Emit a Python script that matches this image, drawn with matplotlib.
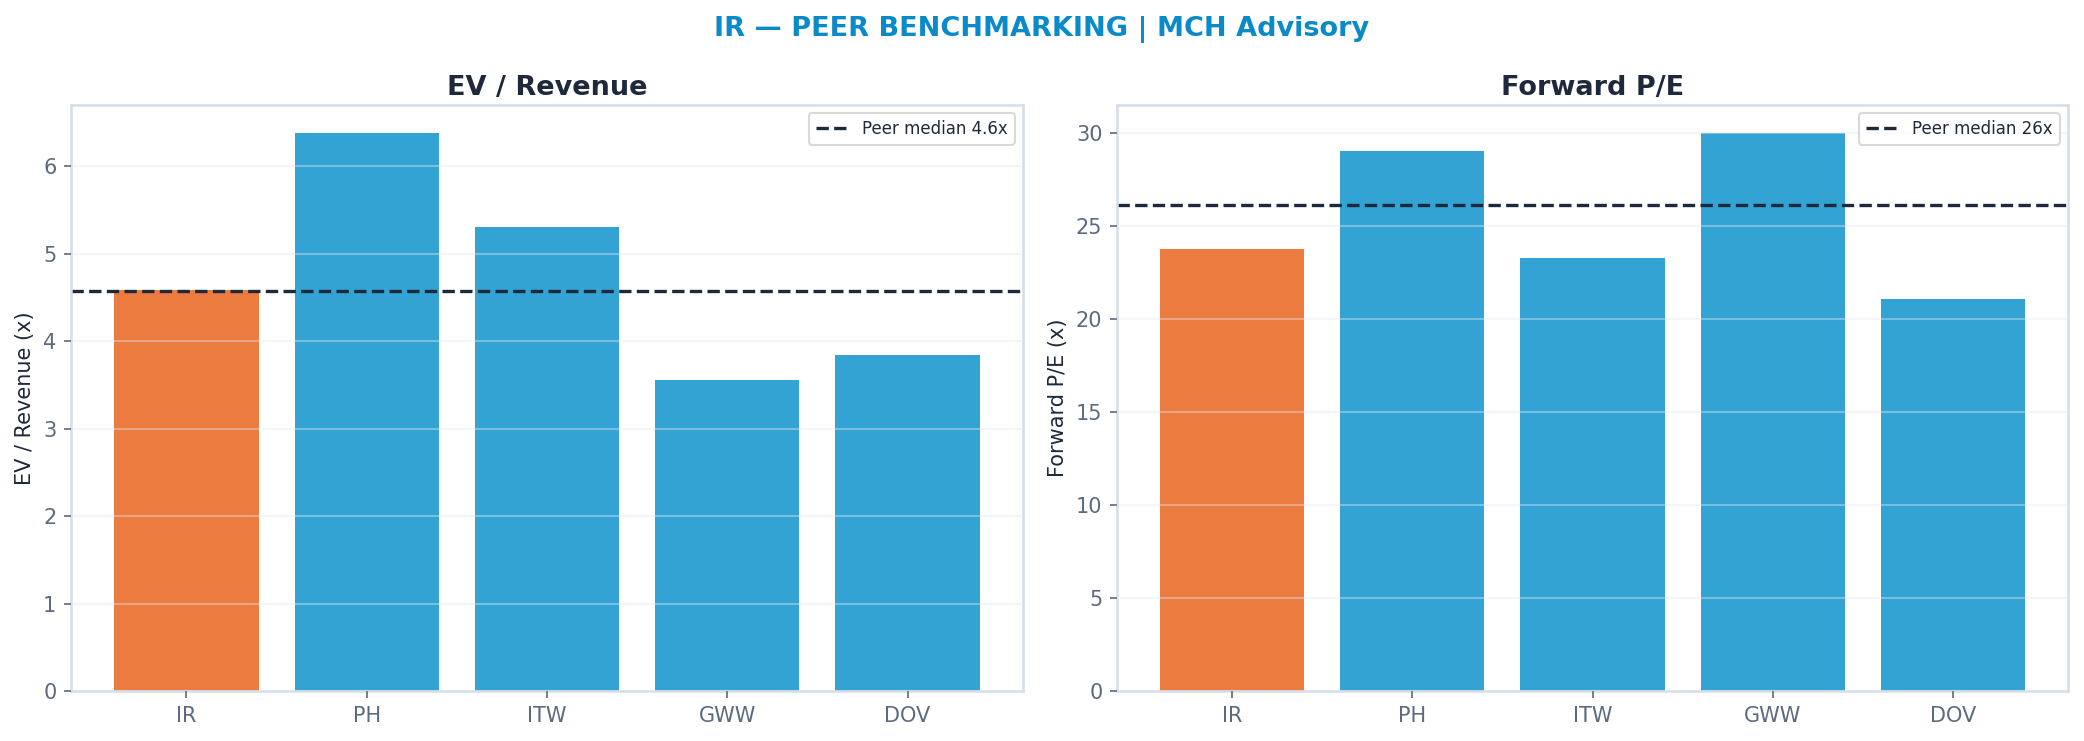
import numpy as np
import matplotlib
matplotlib.use("Agg")
import matplotlib.pyplot as plt

# Peer set
tickers = ["IR", "PH", "ITW", "GWW", "DOV"]
ev_revenue = [4.58, 6.38, 5.31, 3.55, 3.84]
fwd_pe = [23.76, 29.02, 23.26, 30.0, 21.07]

ORANGE = "#EC7B40"
BLUE = "#33A3D3"
DARK = "#1e293b"
MUTED = "#5b6b7f"
SPINE = "#d5dde8"

fig = plt.figure(figsize=(2084 / 150, 741 / 150), dpi=150)
ax1 = fig.add_axes([71 / 2084, 50 / 741, 952 / 2084, 586 / 741])
ax2 = fig.add_axes([1117 / 2084, 50 / 741, 951 / 2084, 586 / 741])

fig.suptitle("IR — PEER BENCHMARKING | MCH Advisory", fontsize=13,
             fontweight="bold", color="#0a8ac8", y=0.979)

panels = [
    (ax1, ev_revenue, "EV / Revenue", "EV / Revenue (x)", "{:.1f}x"),
    (ax2, fwd_pe, "Forward P/E", "Forward P/E (x)", "{:.0f}x"),
]

for ax, vals, title, ylabel, fmt in panels:
    colors = [ORANGE if t == "IR" else BLUE for t in tickers]
    ax.bar(tickers, vals, color=colors, width=0.8)
    med = np.median(vals[1:])
    ax.axhline(med, color=DARK, linestyle="--", linewidth=1.6,
               label="Peer median " + fmt.format(med))
    ax.set_title(title, fontsize=13, fontweight="bold", color=DARK, pad=5)
    ax.set_ylabel(ylabel, fontsize=10, color=DARK)
    ax.set_axisbelow(False)
    ax.grid(axis="y", color="#e2e8f0", alpha=0.4, linewidth=1)
    ax.tick_params(colors=MUTED, labelsize=10)
    for s in ax.spines.values():
        s.set_color(SPINE)
        s.set_linewidth(1.2)
    leg = ax.legend(loc="upper right", fontsize=8, frameon=True)
    leg.get_frame().set_edgecolor("#d0d0d0")
    for t in leg.get_texts():
        t.set_color(DARK)

fig.savefig("out.png", dpi=150, facecolor="white")
